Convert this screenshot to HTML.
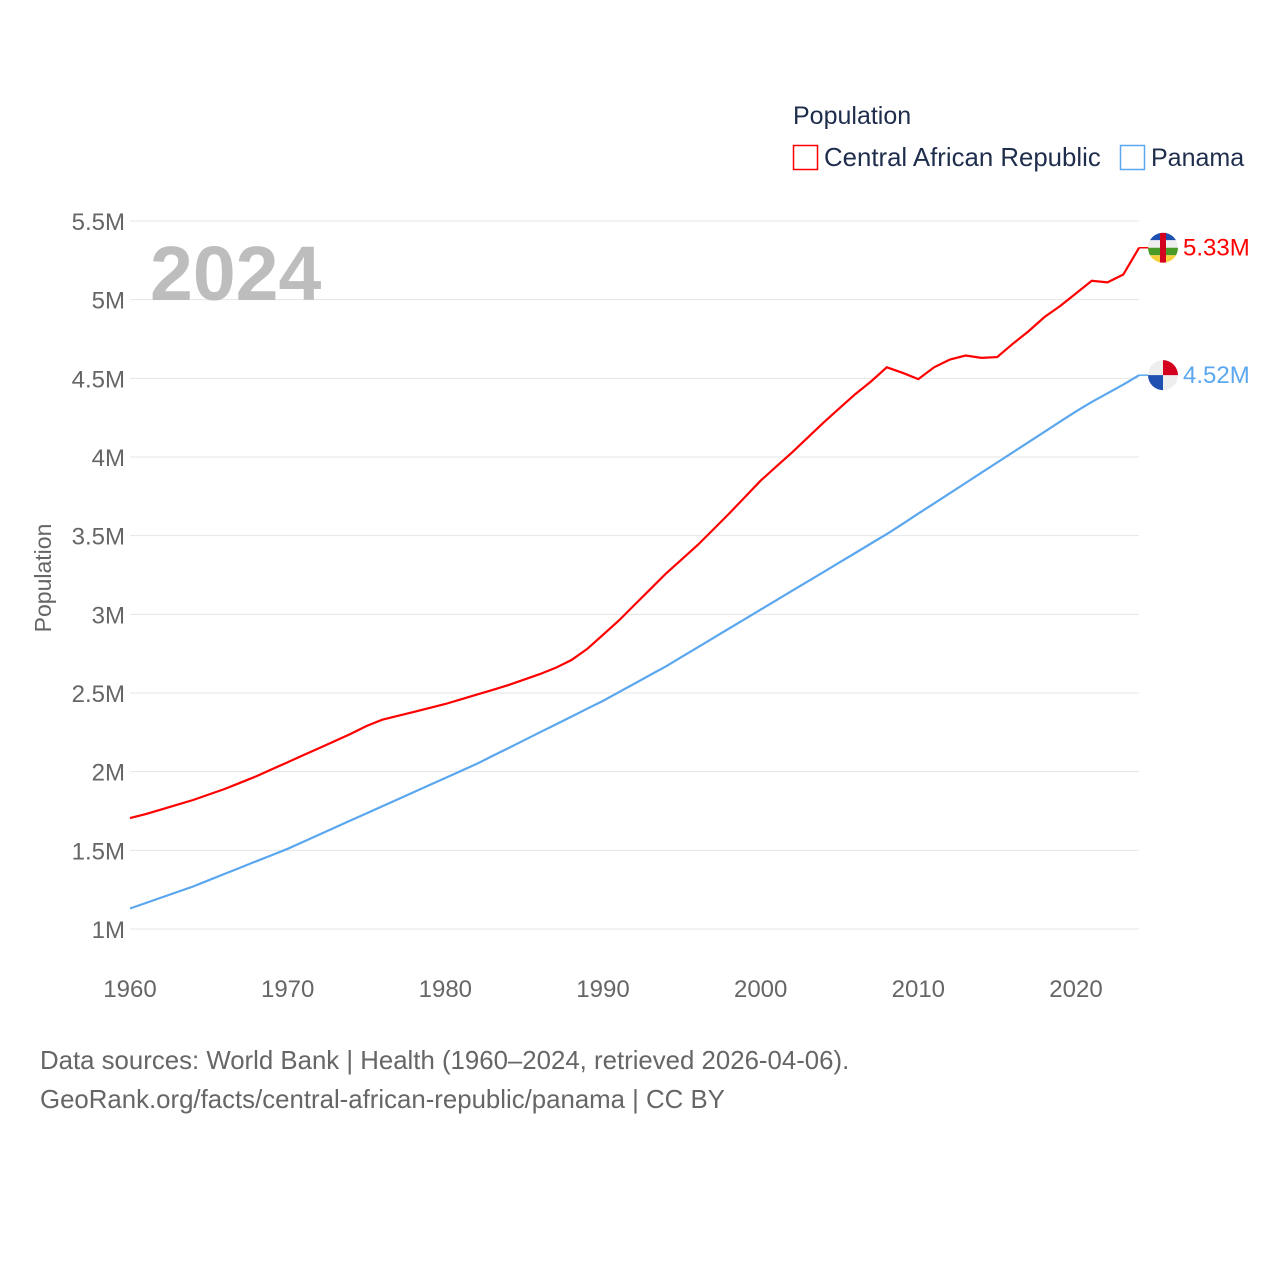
<!DOCTYPE html>
<html><head><meta charset="utf-8"><style>
body{margin:0;background:#fff;font-family:"Liberation Sans",sans-serif}
</style></head><body>
<svg id="chart" width="1280" height="1280" xmlns="http://www.w3.org/2000/svg" font-family="Liberation Sans, sans-serif">
<text x="793" y="124" font-size="25" fill="#1f2d4d">Population</text>
<g><rect x="793.5" y="145.5" width="24" height="24" fill="none" stroke="#f00" stroke-width="1.5"/><text x="824" y="166" font-size="25.8" fill="#1f2d4d">Central African Republic</text></g>
<g><rect x="1120.5" y="145.5" width="24" height="24" fill="none" stroke="#5ba7ef" stroke-width="1.5"/><text x="1151" y="166" font-size="25" fill="#1f2d4d">Panama</text></g>
<g id="grid"></g>
<text x="150" y="300" font-size="77" font-weight="bold" fill="#bdbdbd">2024</text>
<text transform="translate(51,578) rotate(-90)" text-anchor="middle" font-size="23" fill="#666">Population</text>
<g id="series"></g>
<text x="40" y="1069" font-size="25.8" fill="#666">Data sources: World Bank | Health (1960–2024, retrieved 2026-04-06).</text>
<text x="40" y="1108" font-size="25.8" fill="#666">GeoRank.org/facts/central-african-republic/panama | CC BY</text>
</svg>
<script>
const years=[];for(let y=1960;y<=2024;y++)years.push(y);
const carValues=[1.705,1.73,1.76,1.79,1.82,1.855,1.89,1.93,1.97,2.015,2.06,2.105,2.15,2.195,2.24,2.29,2.33,2.355,2.38,2.405,2.43,2.46,2.49,2.52,2.55,2.585,2.62,2.66,2.71,2.78,2.87,2.96,3.06,3.16,3.26,3.35,3.44,3.54,3.64,3.745,3.85,3.94,4.03,4.125,4.22,4.31,4.40,4.48,4.57,4.535,4.495,4.57,4.62,4.645,4.63,4.635,4.72,4.80,4.89,4.96,5.04,5.12,5.11,5.16,5.33];
const panValues=[1.13,1.165,1.2,1.235,1.27,1.31,1.35,1.39,1.43,1.47,1.51,1.555,1.6,1.645,1.69,1.735,1.78,1.825,1.87,1.915,1.96,2.005,2.05,2.1,2.15,2.2,2.25,2.3,2.35,2.4,2.45,2.505,2.56,2.615,2.67,2.73,2.79,2.85,2.91,2.97,3.03,3.09,3.15,3.21,3.27,3.33,3.39,3.45,3.51,3.575,3.64,3.705,3.77,3.835,3.9,3.965,4.03,4.095,4.16,4.225,4.29,4.35,4.405,4.46,4.52];
const yTicks=[1,1.5,2,2.5,3,3.5,4,4.5,5,5.5];
const yTickLabels=["1M","1.5M","2M","2.5M","3M","3.5M","4M","4.5M","5M","5.5M"];
const xTicks=[1960,1970,1980,1990,2000,2010,2020];
const NS="http://www.w3.org/2000/svg";
const X=v=>130+(v-1960)*(1076-130)/60;
const Y=v=>929-(v-1)*(929-221)/4.5;
function mk(t,a,p){const e=document.createElementNS(NS,t);for(const k in a)e.setAttribute(k,a[k]);p.appendChild(e);return e;}
const grid=document.getElementById('grid');
yTicks.forEach((v,i)=>{
 const l=mk('line',{x1:130,x2:1139,y1:Y(v),y2:Y(v),stroke:'#e6e6e6','stroke-width':1},grid);
 
 
 const t=mk('text',{x:125,y:Y(v)+9,'text-anchor':'end','font-size':24,fill:'#666'},grid);
 t.textContent=yTickLabels[i];
 
 
});
xTicks.forEach(v=>{
 const t=mk('text',{x:X(v),y:997,'text-anchor':'middle','font-size':24,fill:'#666'},grid);
 t.textContent=v;
 
 
});
const s=document.getElementById('series');
function line(vals,col,name){
 const p=mk('path',{d:vals.map((v,i)=>(i?'L':'M')+X(years[i]).toFixed(1)+','+Y(v).toFixed(1)).join(''),fill:'none',stroke:col,'stroke-width':2.2},s);
 
 
}
line(panValues,'#5ba7ef','panama-line');
line(carValues,'#f00','car-line');
const lc=carValues[carValues.length-1],lp=panValues[panValues.length-1];
const fx=1163;
const cy1=Y(lc),cy2=Y(lp);
mk('line',{x1:X(2024),x2:fx-14,y1:cy1,y2:cy1,stroke:'#f00','stroke-width':1.5},s);
mk('line',{x1:X(2024),x2:fx-14,y1:cy2,y2:cy2,stroke:'#5ba7ef','stroke-width':1.5},s);
// CAR flag
let g=mk('g',{},s);
const cp=mk('clipPath',{id:'c1'},g);mk('circle',{cx:fx,cy:cy1,r:15},cp);
const gg=mk('g',{'clip-path':'url(#c1)'},g);
[['#1f4fb0',0],['#eee',1],['#4a9a2a',2],['#f6d03a',3]].forEach(([c,i])=>mk('rect',{x:fx-15,y:cy1-15+i*7.5,width:30,height:7.5,fill:c},gg));
mk('rect',{x:fx-3,y:cy1-15,width:6,height:30,fill:'#d4001f'},gg);
let t=mk('text',{x:1183,y:cy1+8,'font-size':24,fill:'#f00'},s);t.textContent=lc.toFixed(2)+'M';

// Panama flag
g=mk('g',{},s);
mk('circle',{cx:fx,cy:cy2,r:15,fill:'#eee'},g);
mk('path',{d:`M${fx},${cy2}L${fx},${cy2-15}A15,15 0 0 1 ${fx+15},${cy2}Z`,fill:'#d4001f'},g);
mk('path',{d:`M${fx},${cy2}L${fx},${cy2+15}A15,15 0 0 1 ${fx-15},${cy2}Z`,fill:'#1f4fb0'},g);
t=mk('text',{x:1183,y:cy2+8,'font-size':24,fill:'#5ba7ef'},s);t.textContent=lp.toFixed(2)+'M';

</script>
</body></html>
